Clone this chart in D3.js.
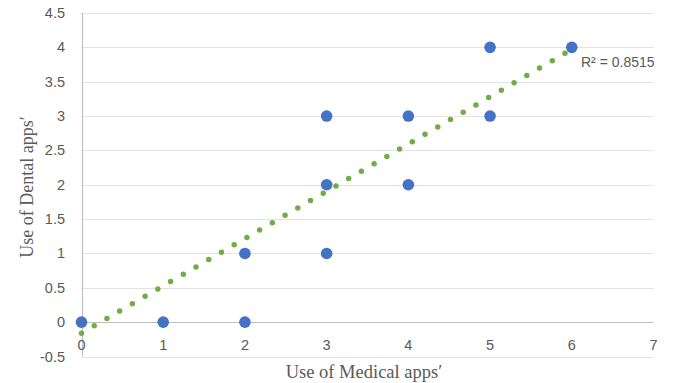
<!DOCTYPE html>
<html>
<head>
<meta charset="utf-8">
<script src="https://cdn.jsdelivr.net/npm/d3@7"></script>
<style>
  body { margin: 0; background: #fff; }
  svg { display: block; }
</style>
</head>
<body>
<svg id="chart"></svg>
<script>
// values
const medicalUse = [0, 1, 2, 2, 3, 3, 3, 4, 4, 5, 5, 6];
const dentalUse  = [0, 0, 0, 1, 1, 2, 3, 2, 3, 3, 4, 4];
const trendX = [0, 6];
const trendY = [-0.16, 3.97];
const xTicks = [0, 1, 2, 3, 4, 5, 6, 7];
const yTicks = [-0.5, 0, 0.5, 1, 1.5, 2, 2.5, 3, 3.5, 4, 4.5];
const r2Label = 'R² = 0.8515';

const W = 676, H = 383;
const svg = d3.select('#chart').attr('width', W).attr('height', H);

const x = d3.scaleLinear().domain([0, 7]).range([81.5, 653.5]);
const y = d3.scaleLinear().domain([-0.5, 4.5]).range([356.5, 13]);

const tickFont = '"Liberation Sans", Arial, sans-serif';
const serif = '"Liberation Serif", "Times New Roman", serif';
const grey = '#595959';

// gridlines
svg.append('g')
   .selectAll('line')
   .data(yTicks.filter(d => d !== 0))
   .enter()
   .append('line')
   .attr('x1', x(0)).attr('x2', x(7))
   .attr('y1', d => Math.round(y(d)) + 0.5)
   .attr('y2', d => Math.round(y(d)) + 0.5)
   .attr('stroke', '#e3e3e3')
   .attr('stroke-width', 1);

// axis lines
svg.append('line')
   .attr('x1', x(0)).attr('x2', x(7))
   .attr('y1', Math.round(y(0)) + 0.5).attr('y2', Math.round(y(0)) + 0.5)
   .attr('stroke', '#bfbfbf').attr('stroke-width', 1.2);
svg.append('line')
   .attr('x1', Math.round(x(0)) + 0.5).attr('x2', Math.round(x(0)) + 0.5)
   .attr('y1', y(4.5)).attr('y2', y(-0.5))
   .attr('stroke', '#bfbfbf').attr('stroke-width', 1.2);

// y tick labels
svg.append('g')
   .selectAll('text')
   .data(yTicks)
   .enter()
   .append('text')
   .attr('x', 65)
   .attr('y', d => y(d) + 5)
   .attr('text-anchor', 'end')
   .attr('font-family', tickFont)
   .attr('font-size', 14.5)
   .attr('fill', grey)
   .text(d => d);

// x tick labels
svg.append('g')
   .selectAll('text')
   .data(xTicks)
   .enter()
   .append('text')
   .attr('x', d => x(d))
   .attr('y', y(0) + 28)
   .attr('text-anchor', 'middle')
   .attr('font-family', tickFont)
   .attr('font-size', 14.5)
   .attr('fill', grey)
   .text(d => d);

// points
const pts = medicalUse.map((m, i) => [m, dentalUse[i]]);
svg.append('g')
   .selectAll('circle')
   .data(pts)
   .enter()
   .append('circle')
   .attr('cx', d => x(d[0]))
   .attr('cy', d => y(d[1]))
   .attr('r', 5.8)
   .attr('fill', '#4472c4');

// trendline, dotted
svg.append('path')
   .datum(trendX.map((v, i) => [v, trendY[i]]))
   .attr('d', d3.line().x(d => x(d[0])).y(d => y(d[1])))
   .attr('fill', 'none')
   .attr('stroke', '#70ad47')
   .attr('stroke-width', 5.5)
   .attr('stroke-linecap', 'round')
   .attr('stroke-dasharray', '0 14.7');

// R² label
svg.append('text')
   .attr('x', 581)
   .attr('y', 67)
   .attr('font-family', tickFont)
   .attr('font-size', 14)
   .attr('fill', grey)
   .text(r2Label);

// axis titles
svg.append('text')
   .attr('x', 364)
   .attr('y', 378)
   .attr('text-anchor', 'middle')
   .attr('font-family', serif)
   .attr('font-size', 18.5)
   .attr('fill', grey)
   .text('Use of Medical apps′');

svg.append('text')
   .attr('transform', 'translate(33,187) rotate(-90)')
   .attr('text-anchor', 'middle')
   .attr('font-family', serif)
   .attr('font-size', 18)
   .attr('fill', grey)
   .text('Use of Dental apps′');
</script>
</body>
</html>
